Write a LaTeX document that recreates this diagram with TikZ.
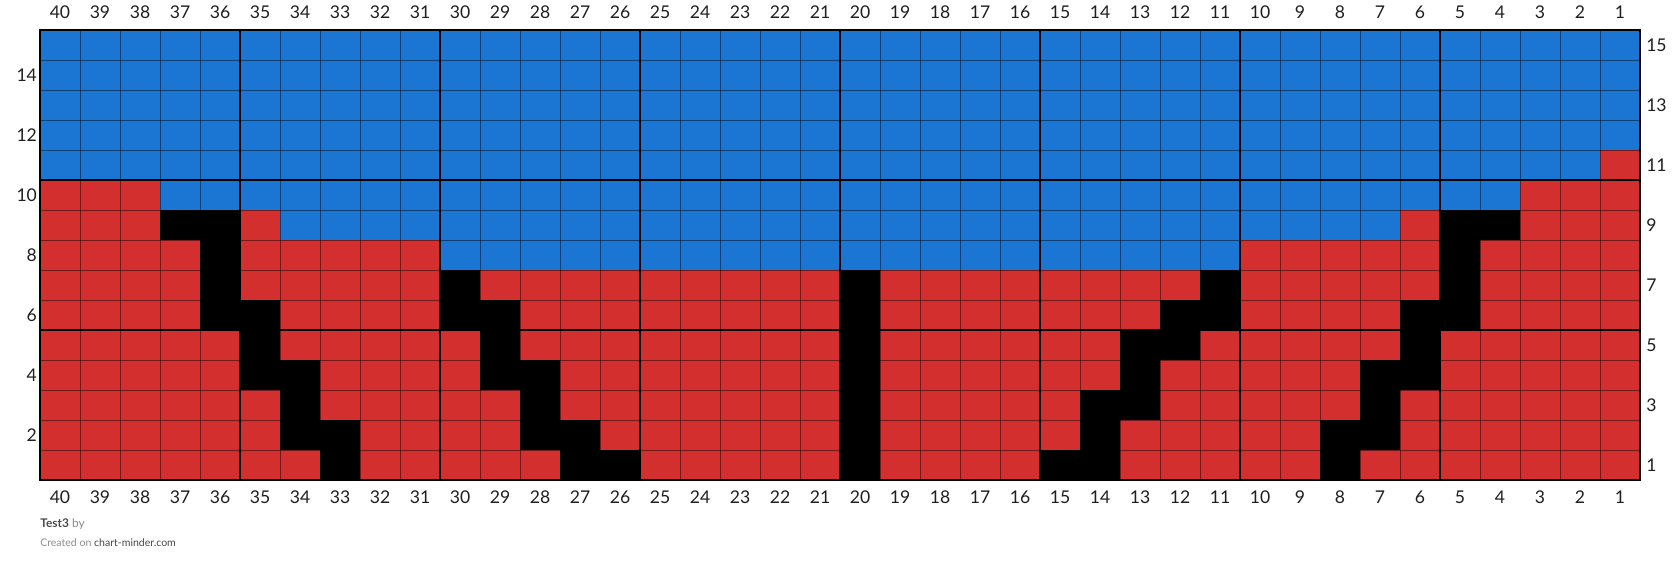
\documentclass[tikz,border=0pt]{standalone}
\usepackage{fontspec}
\setmainfont{Lato}
\usepackage{xcolor}
\usetikzlibrary{math}
\definecolor{myblue}{RGB}{27,118,211}
\definecolor{myred}{RGB}{211,47,47}

\begin{document}
\begin{tikzpicture}[x=1cm,y=0.75cm,
  numlab/.style={inner sep=0pt,font=\fontsize{12.5}{14}\selectfont,color=black!88},
  cellline/.style={line width=0.6pt,color=black,opacity=0.45},
  blockline/.style={line width=1.3pt,color=black},
  stitch/.style={fill=black}]
\tikzmath{
\ncol=40;
\nrow=15;
}
\useasboundingbox (-1,-3.1) rectangle (41,16);

 %background colours
 \fill[myred] (0,0) rectangle (\ncol,10);
 \fill[myblue] (0,10) rectangle (\ncol,\nrow);
 \fill[myred] (39,10) rectangle (40,11);
 \fill[myblue] (3,9) rectangle (37,10);
 \fill[myblue] (6,8) rectangle (34,9);
 \fill[myblue] (10,7) rectangle (30,8);

 %black stitches, row/columns
 \foreach \r/\cols in {9/{37,36,5,4}, 8/{36,5}, 7/{36,30,20,11,5},
   6/{36,35,30,29,20,12,11,6,5}, 5/{35,29,20,13,12,6},
   4/{35,34,29,28,20,13,7,6}, 3/{34,28,20,14,13,7},
   2/{34,33,28,27,20,14,8,7}, 1/{33,27,26,20,15,14,8}}
   \foreach \c in \cols
     \fill[stitch] (40-\c,\r-1) rectangle ++(1,1);

 %grid
 \foreach \i in {1,...,39}
   \draw[cellline] (\i,0) -- (\i,\nrow);
 \foreach \j in {1,...,14}
   \draw[cellline] (0,\j) -- (\ncol,\j);
 \foreach \i in {5,10,...,35}
   \draw[blockline] (\i,0) -- (\i,\nrow);
 \foreach \j in {5,10}
   \draw[blockline] (0,\j) -- (\ncol,\j);
 \draw[line width=1.7pt] (0,0) rectangle (\ncol,\nrow);

 %column numbers
 \foreach \c in {1,...,40}{
   \node[numlab] (top\c) at (40.5-\c,15.6) {\c};
   \node[numlab] (bot\c) at (40.5-\c,-0.57) {\c};
 }
 %row numbers
 \foreach \r in {2,4,...,14}
   \node[numlab,anchor=east] (left\r) at (-0.07,\r-0.5) {\r};
 \foreach \r in {1,3,...,15}
   \node[numlab,anchor=west] (right\r) at (40.15,\r-0.5) {\r};

 %footer
 \node[anchor=west,inner sep=0pt,font=\fontsize{8.5}{10}\selectfont] (title) at (0,-1.47)
   {\textcolor{black!70}{\bfseries Test3} \textcolor{black!45}{by}};
 \node[anchor=west,inner sep=0pt,font=\fontsize{7.5}{9}\selectfont] (credit) at (0,-2.1)
   {\textcolor{black!45}{Created on} \textcolor{black!72}{chart-minder.com}};
\end{tikzpicture}
\end{document}
